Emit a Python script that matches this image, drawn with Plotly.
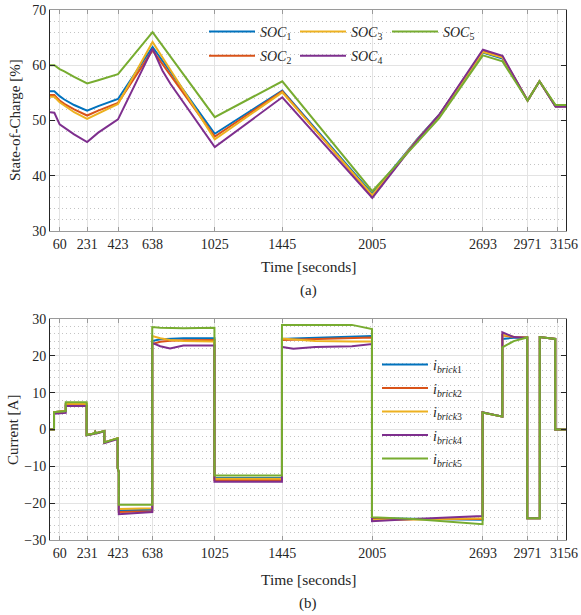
import plotly.graph_objects as go

# ---------------- data ----------------
x_ticks = [60, 231, 423, 638, 1025, 1445, 2005, 2693, 2971, 3156]
x_tick_labels = ["60", "231", "423", "638", "1025", "1445", "2005", "2693", "2971", ""]
last_tick_label = "3156"   # drawn slightly right of its tick, as in the original

t_soc = [0, 27, 60, 89, 150, 231, 300, 423, 638, 700, 750, 1025, 1445, 2005,
         2283, 2420, 2693, 2815, 2971, 3045, 3145, 3210]
soc1 = [55.3, 55.3, 54.4, 53.8, 52.8, 51.8, 52.6, 53.9, 63.3, 60.8, 58.8, 47.6, 55.4, 36.7,
        46.6, 51.0, 62.3, 61.2, 53.6, 57.1, 52.6, 52.6]
soc2 = [54.6, 54.6, 53.6, 53.0, 52.0, 50.9, 51.8, 53.2, 62.7, 60.2, 58.2, 47.1, 55.3, 36.3,
        46.4, 50.9, 62.6, 61.5, 53.6, 57.1, 52.6, 52.6]
soc3 = [54.3, 54.3, 53.3, 52.7, 51.5, 50.3, 51.3, 53.0, 64.2, 61.4, 59.1, 46.6, 55.1, 36.5,
        46.5, 50.9, 62.4, 61.4, 53.6, 57.1, 52.6, 52.6]
soc4 = [51.5, 51.4, 49.3, 48.7, 47.5, 46.1, 47.8, 50.2, 63.0, 59.0, 56.6, 45.2, 54.2, 36.0,
        46.4, 51.0, 62.8, 61.7, 53.6, 57.1, 52.5, 52.5]
soc5 = [60.0, 60.0, 59.3, 58.9, 57.9, 56.7, 57.3, 58.4, 66.0, 63.5, 61.5, 50.6, 57.1, 37.2,
        46.0, 50.4, 61.8, 60.7, 53.6, 57.1, 52.8, 52.8]

t_cur = [0, 25, 25, 98, 98, 228, 228, 275, 281, 287, 338, 338, 421, 421, 428, 428, 636,
         636, 686, 747, 830, 1023, 1023, 1443, 1443, 1514, 1650, 1878, 2003, 2003, 2260,
         2691, 2691, 2814, 2814, 2885, 2969, 2969, 3047, 3047, 3143, 3143, 3210]
i_brick1 = [0, 0, 4.7, 5.0, 6.9, 6.9, -1.5, -1.1, -0.6, -1.0, -0.4, -3.5, -2.4, -10.5, -11.5,
            -22.0, -21.8, 24.0, 24.5, 24.7, 24.8, 24.8, -13.2, -13.2, 24.6, 24.7, 24.9, 25.2,
            25.4, -24.1, -24.2, -24.5, 4.6, 3.5, 24.6, 24.9, 25.0, -24.1, -24.1, 25.1, 24.6, 0, 0]
i_brick2 = [0, 0, 4.7, 5.0, 6.7, 6.7, -1.5, -1.1, -0.6, -1.0, -0.4, -3.5, -2.4, -10.5, -11.5,
            -22.4, -22.2, 23.2, 23.8, 24.1, 24.2, 24.3, -13.7, -13.7, 24.3, 24.4, 24.6, 24.8,
            25.0, -24.4, -24.4, -24.3, 4.6, 3.5, 25.6, 25.1, 25.0, -24.1, -24.1, 25.1, 24.6, 0, 0]
i_brick3 = [0, 0, 4.7, 5.0, 7.0, 7.0, -1.5, -1.1, -0.6, -1.0, -0.4, -3.5, -2.4, -10.5, -11.5,
            -21.6, -21.4, 25.4, 24.8, 24.3, 24.0, 23.9, -13.4, -13.4, 24.7, 24.5, 24.0, 23.9,
            23.9, -24.6, -24.4, -24.1, 4.6, 3.5, 25.7, 25.2, 25.0, -24.1, -24.1, 25.1, 24.6, 0, 0]
i_brick4 = [0, 0, 4.3, 4.5, 6.4, 6.4, -1.6, -1.2, -0.7, -1.1, -0.5, -3.7, -2.6, -10.5, -11.5,
            -23.0, -22.4, 23.5, 22.6, 22.0, 22.8, 22.8, -14.2, -14.2, 22.4, 21.9, 22.4, 22.6,
            23.2, -24.9, -24.3, -23.5, 4.7, 3.5, 26.4, 25.1, 24.9, -24.1, -24.1, 25.1, 24.6, 0, 0]
i_brick5 = [0, 0, 4.7, 5.0, 7.4, 7.4, -1.5, -1.1, -0.6, -1.0, -0.4, -3.5, -2.4, -10.5, -11.5,
            -20.4, -20.4, 27.8, 27.6, 27.5, 27.5, 27.6, -12.5, -12.5, 28.4, 28.4, 28.4, 28.4,
            27.3, -23.8, -24.3, -25.7, 4.6, 3.5, 22.3, 24.0, 25.0, -24.1, -24.1, 25.1, 24.6, 0, 0]

soc_series = [soc1, soc2, soc3, soc4, soc5]
cur_series = [i_brick1, i_brick2, i_brick3, i_brick4, i_brick5]
soc_names = ["<i>SOC</i><sub>1</sub>", "<i>SOC</i><sub>2</sub>", "<i>SOC</i><sub>3</sub>",
             "<i>SOC</i><sub>4</sub>", "<i>SOC</i><sub>5</sub>"]
cur_names = ["<i>i</i><sub><i>brick</i>1</sub>", "<i>i</i><sub><i>brick</i>2</sub>",
             "<i>i</i><sub><i>brick</i>3</sub>", "<i>i</i><sub><i>brick</i>4</sub>",
             "<i>i</i><sub><i>brick</i>5</sub>"]
colors = ["#0072BD", "#D95319", "#EDB120", "#7E2F8E", "#77AC30"]
soc_legend = ["legend", "legend", "legend2", "legend2", "legend3"]

# ---------------- figure ----------------
W, H = 581, 615
ML, MR, MT, MB = 50, 15, 10, 75
PW = W - ML - MR
PH = H - MT - MB


def px(xp):
    return (xp - ML) / PW


def py(yp):
    return (H - MB - yp) / PH


FONT = "Liberation Serif"
TXT = "#262626"
fig = go.Figure()

for k, (s, name, c, lg) in enumerate(zip(soc_series, soc_names, colors, soc_legend)):
    fig.add_trace(go.Scatter(x=t_soc, y=s, mode="lines", name=name, legend=lg,
                             legendgroup="soc%d" % k,
                             line=dict(color=c, width=2), xaxis="x", yaxis="y"))

for k, (s, name, c) in enumerate(zip(cur_series, cur_names, colors)):
    fig.add_trace(go.Scatter(x=t_cur, y=s, mode="lines", name=name, legend="legend4",
                             legendgroup="cur%d" % k,
                             line=dict(color=c, width=2), xaxis="x2", yaxis="y2"))

xcommon = dict(range=[0, 3210], tickvals=x_ticks, ticktext=x_tick_labels,
               tickangle=0, showgrid=True, gridcolor="#e3e3e3", gridwidth=1, zeroline=False,
               showline=True, linecolor="#9a9a9a", linewidth=1, mirror="ticks",
               ticks="inside", ticklen=4, tickcolor="#9a9a9a",
               tickfont=dict(family=FONT, size=14, color=TXT))
ycommon = dict(showgrid=True, gridcolor="#e3e3e3", gridwidth=1, zeroline=False,
               showline=True, linecolor=TXT, linewidth=1, mirror="ticks",
               ticks="inside", ticklen=5, tickcolor=TXT,
               tickfont=dict(family=FONT, size=14, color=TXT),
               minor=dict(dtick=2, showgrid=True, gridcolor="#c4c4c4", griddash="1px,3px",
                          gridwidth=1, ticks=""))

top_dom = [py(231), 1]
bot_dom = [0, py(319)]


def leg(x, y, gap):
    return dict(orientation="v", x=px(x), y=py(y), xanchor="left", yanchor="top",
                xref="paper", yref="paper", bgcolor="rgba(255,255,255,0)",
                font=dict(family=FONT, size=14, color=TXT), itemwidth=46,
                tracegroupgap=gap)


fig.update_layout(
    width=W, height=H, margin=dict(l=ML, r=MR, t=MT, b=MB, autoexpand=False),
    paper_bgcolor="white", plot_bgcolor="white",
    font=dict(family=FONT, size=14, color=TXT),
    xaxis=dict(xcommon, anchor="y", domain=[0, 1]),
    yaxis=dict(ycommon, range=[30, 70], dtick=10, domain=top_dom, anchor="x"),
    xaxis2=dict(xcommon, anchor="y2", domain=[0, 1]),
    yaxis2=dict(ycommon, range=[-30, 30], dtick=10, domain=bot_dom, anchor="x2"),
    legend=leg(204, 16, 3),
    legend2=leg(295, 16, 3),
    legend3=leg(387, 16, 3),
    legend4=leg(377, 349, 2.3),
    showlegend=True,
)

annots = [
    dict(text="State-of-Charge [%]", x=px(15), y=py(120), textangle=-90, size=15),
    dict(text="Current [A]", x=px(13), y=py(430), textangle=-90, size=15),
    dict(text="Time [seconds]", x=px(308), y=py(266), size=15.5),
    dict(text="Time [seconds]", x=px(308), y=py(579), size=15.5),
    dict(text="(a)", x=px(308), y=py(290), size=15),
    dict(text="(b)", x=px(308), y=py(603), size=15),
]
for a in annots:
    size = a.pop("size")
    fig.add_annotation(xref="paper", yref="paper", showarrow=False,
                       xanchor="center", yanchor="middle",
                       font=dict(family=FONT, size=size, color=TXT), **a)

# last x tick label, nudged right of its gridline as in the original figure
for xr, ylab in (("x", 244), ("x2", 553)):
    fig.add_annotation(xref=xr, yref="paper", x=x_ticks[-1], y=py(ylab), xshift=7,
                       text=last_tick_label, showarrow=False, xanchor="center",
                       yanchor="middle", font=dict(family=FONT, size=14, color=TXT))

fig.write_html("out.html", config={"displayModeBar": False},
               post_script="document.body.style.margin='0px';")
